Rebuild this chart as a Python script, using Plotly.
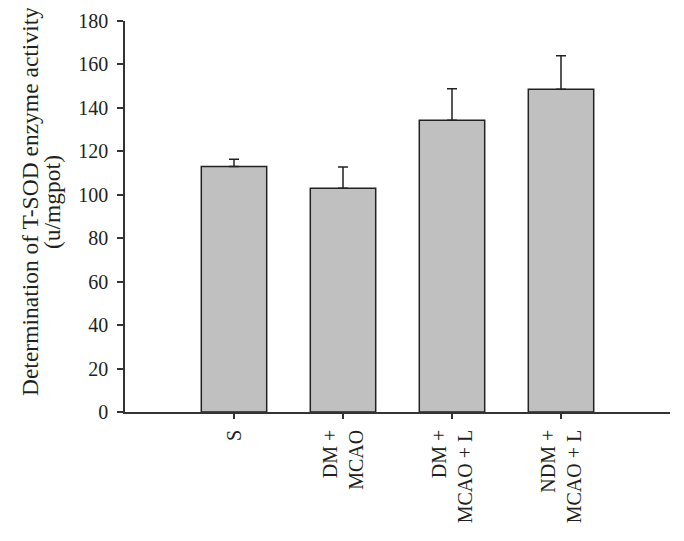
import plotly.graph_objects as go

categories = ["S", "DM +<br>MCAO", "DM +<br>MCAO + L", "NDM +<br>MCAO + L"]
means = [113, 103, 134.3, 148.6]
sd_plus = [3.3, 9.8, 14.5, 15.4]
yticks = [0, 20, 40, 60, 80, 100, 120, 140, 160, 180]
ytitle_lines = ["Determination of T-SOD enzyme activity", "(u/mgpot)"]

serif = "Liberation Serif, Times New Roman, serif"
ink = "#231f20"

fig = go.Figure()
fig.add_trace(go.Bar(
    x=list(range(len(categories))),
    y=means,
    width=0.6,
    marker=dict(color="#c0c0c0", line=dict(color="#222222", width=1.5)),
    error_y=dict(type="data", symmetric=False, array=sd_plus,
                 arrayminus=[0] * len(sd_plus),
                 color="#222222", thickness=1.5, width=5),
))

# page body has an 8px margin, so the figure is a bit smaller and shifted
fig.update_layout(
    width=676, height=533,
    margin=dict(l=117, r=14, t=13, b=129),
    plot_bgcolor="white", paper_bgcolor="white",
    showlegend=False,
    font=dict(family=serif, size=20, color=ink),
    xaxis=dict(
        range=[-1, 4],
        tickmode="array",
        tickvals=list(range(len(categories))),
        ticktext=categories,
        tickangle=-90,
        ticks="outside", ticklen=5, tickwidth=1.5, tickcolor="#333333",
        ticklabelstandoff=3,
        showline=True, linecolor="#333333", linewidth=1.5,
        showgrid=False, zeroline=False, automargin=False,
        tickfont=dict(family=serif, size=20, color=ink),
    ),
    yaxis=dict(
        range=[0, 180],
        tickmode="array",
        tickvals=yticks,
        ticks="outside", ticklen=6, tickwidth=1.5, tickcolor="#333333",
        ticklabelstandoff=5,
        showline=True, linecolor="#333333", linewidth=1.5,
        showgrid=False, zeroline=False, automargin=False,
        tickfont=dict(family=serif, size=20, color=ink),
    ),
)

for line, shift in zip(ytitle_lines, [-95, -73]):
    fig.add_annotation(
        text=line, xref="paper", yref="paper", x=0, y=0.537,
        xanchor="center", yanchor="middle", xshift=shift,
        textangle=-90, showarrow=False,
        font=dict(family=serif, size=23.5, color=ink),
    )

fig.write_html("out.html")
